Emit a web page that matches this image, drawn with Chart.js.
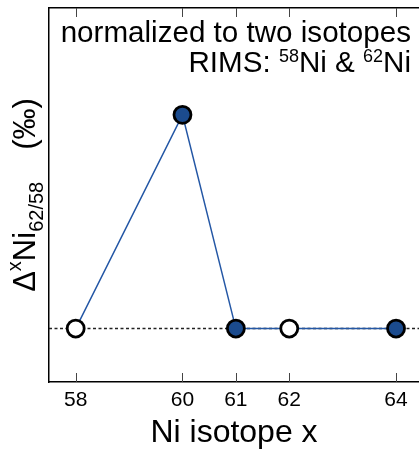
<!DOCTYPE html>
<html>
<head>
<meta charset="utf-8">
<script src="https://cdn.jsdelivr.net/npm/chart.js@4"></script>
<style>
  html, body { margin: 0; padding: 0; background: #fff; }
  #wrap { width: 419px; height: 449px; position: relative; }
</style>
</head>
<body>
<div id="wrap"><canvas id="chart"></canvas></div>
<script>
// data
const ISOTOPES = [58, 60, 61, 62, 64];
const DELTA = [0, 1, 0, 0, 0];
const NORM_ISOTOPES = [58, 62]; // open symbols (normalizing pair)
const BASELINE = 0;
const X_MIN = 57.5, X_MAX = 64.43;
const Y_MIN = -0.25, Y_MAX = 1.5;

const FONT = '"Liberation Sans", Arial, Helvetica, sans-serif';
const NAVY = '#1b4b8e';
const LINE_BLUE = '#2457a5';

// draw a row of text pieces (for sub/superscripts)
function drawRuns(ctx, runs, x, y, align) {
  let total = 0;
  runs.forEach(r => {
    if (r.gap) { r.w = r.gap; }
    else { ctx.font = r.size + 'px ' + FONT; r.w = ctx.measureText(r.t).width; }
    total += r.w;
  });
  let cx = align === 'right' ? x - total : align === 'center' ? x - total / 2 : x;
  ctx.textAlign = 'left';
  ctx.textBaseline = 'alphabetic';
  runs.forEach(r => {
    if (!r.gap) {
      ctx.font = r.size + 'px ' + FONT;
      ctx.fillText(r.t, cx, y + (r.dy || 0));
    }
    cx += r.w;
  });
}

const baselinePlugin = {
  id: 'baseline',
  beforeDatasetsDraw(chart) {
    const { ctx, chartArea, scales } = chart;
    const yp = scales.y.getPixelForValue(BASELINE);
    ctx.save();
    ctx.strokeStyle = '#222';
    ctx.lineWidth = 1.5;
    ctx.setLineDash([3, 2.5]);
    ctx.beginPath();
    ctx.moveTo(chartArea.left, yp);
    ctx.lineTo(chartArea.right, yp);
    ctx.stroke();
    ctx.restore();
  }
};

const inTicksPlugin = {
  id: 'inTicks',
  afterDraw(chart) {
    const { ctx, chartArea, scales } = chart;
    ctx.save();
    ctx.strokeStyle = '#444';
    ctx.lineWidth = 1;
    scales.x.ticks.forEach(t => {
      const xp = Math.round(scales.x.getPixelForValue(t.value)) + 0.5;
      ctx.beginPath();
      ctx.moveTo(xp, chartArea.bottom);
      ctx.lineTo(xp, chartArea.bottom - 9);
      ctx.moveTo(xp, chartArea.top);
      ctx.lineTo(xp, chartArea.top + 9);
      ctx.stroke();
    });
    ctx.restore();
  }
};

const textPlugin = {
  id: 'richText',
  afterDraw(chart) {
    const { ctx, chartArea } = chart;
    ctx.save();
    ctx.fillStyle = '#000';
    // note in upper right
    drawRuns(ctx, [{ t: 'normalized to two isotopes', size: 29.6 }], 411, 42, 'right');
    drawRuns(ctx, [
      { t: 'RIMS: ', size: 29.6 },
      { t: '58', size: 18, dy: -10 },
      { t: 'Ni & ', size: 29.6 },
      { t: '62', size: 18, dy: -10 },
      { t: 'Ni', size: 29.6 }
    ], 411, 72, 'right');
    // y axis title, rotated
    ctx.translate(35, (chartArea.top + chartArea.bottom) / 2);
    ctx.rotate(-Math.PI / 2);
    drawRuns(ctx, [
      { t: 'Δ', size: 31 },
      { t: 'x', size: 20, dy: -14 },
      { t: 'Ni', size: 31 },
      { t: '62/58', size: 20, dy: 8 },
      { gap: 32 },
      { t: '(‰)', size: 31 }
    ], 0, 0, 'center');
    ctx.restore();
  }
};

const points = ISOTOPES.map((x, i) => ({ x, y: DELTA[i] }));
const fills = ISOTOPES.map(x => NORM_ISOTOPES.includes(x) ? '#ffffff' : NAVY);

new Chart(document.getElementById('chart'), {
  type: 'line',
  data: {
    datasets: [{
      data: points,
      borderColor: LINE_BLUE,
      borderWidth: 1.5,
      pointRadius: 8.5,
      pointHoverRadius: 8.5,
      pointBorderWidth: 2.8,
      pointBorderColor: '#000',
      pointBackgroundColor: fills,
      tension: 0,
      clip: false
    }]
  },
  options: {
    responsive: true,
    maintainAspectRatio: false,
    animation: false,
    layout: { autoPadding: false, padding: { left: 49, top: 8, right: 0, bottom: 0 } },
    plugins: { legend: { display: false }, tooltip: { enabled: false } },
    scales: {
      x: {
        type: 'linear',
        position: 'bottom',
        min: X_MIN,
        max: X_MAX,
        afterBuildTicks: s => { s.ticks = ISOTOPES.map(v => ({ value: v })); },
        afterFit: s => { s.height = 67; s.paddingLeft = 0; s.paddingRight = 0; },
        grid: { drawOnChartArea: false, drawTicks: false },
        border: { display: true, color: '#000', width: 1.5 },
        ticks: {
          autoSkip: false,
          maxRotation: 0,
          padding: 6,
          color: '#000',
          font: { family: FONT, size: 21 }
        },
        title: {
          display: true,
          text: 'Ni isotope x',
          color: '#000',
          padding: { top: 0, bottom: -3 },
          font: { family: FONT, size: 32 }
        }
      },
      x2: {
        type: 'linear',
        position: 'top',
        min: X_MIN,
        max: X_MAX,
        afterFit: s => { s.height = 0; s.paddingLeft = 0; s.paddingRight = 0; },
        grid: { drawOnChartArea: false, drawTicks: false },
        border: { display: true, color: '#000', width: 1.5 },
        ticks: { display: false }
      },
      y: {
        min: Y_MIN,
        max: Y_MAX,
        afterFit: s => { s.width = 0; },
        grid: { display: false },
        border: { display: true, color: '#000', width: 1.5 },
        ticks: { display: false }
      }
    }
  },
  plugins: [baselinePlugin, inTicksPlugin, textPlugin]
});
</script>
</body>
</html>
